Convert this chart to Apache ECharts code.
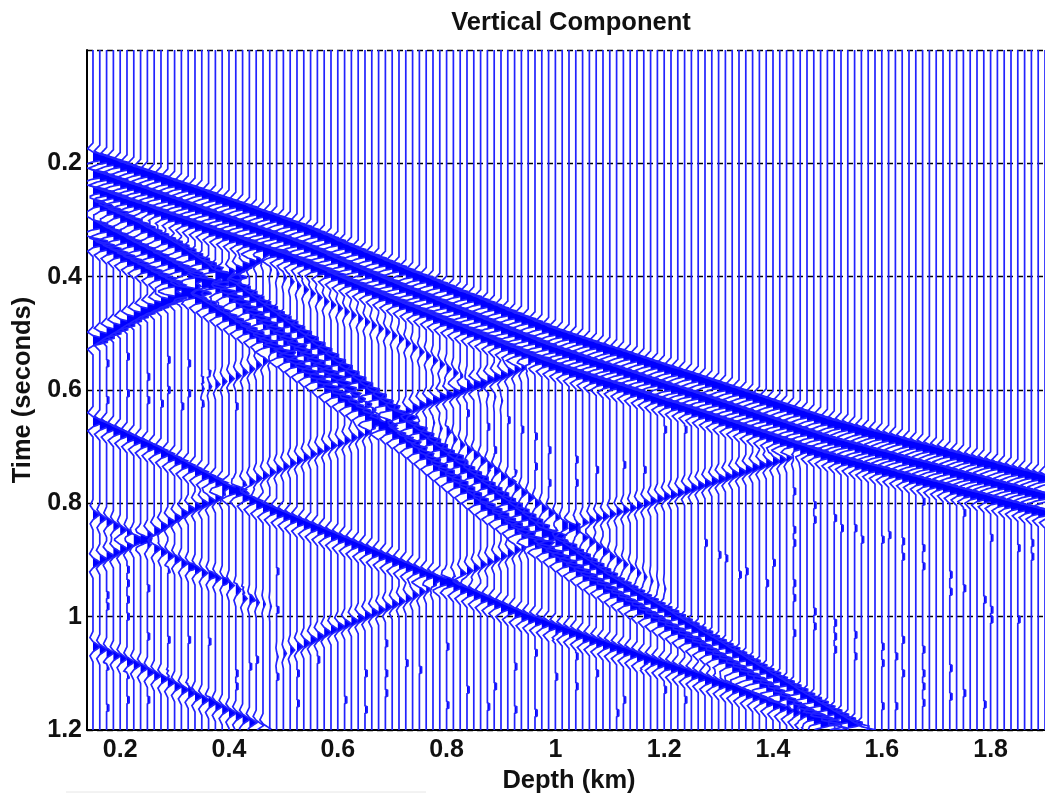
<!DOCTYPE html>
<html><head><meta charset="utf-8">
<style>html,body{margin:0;padding:0;background:#fff}#c{width:1045px;height:795px}</style>
<script src="https://cdn.jsdelivr.net/npm/echarts@6/dist/echarts.min.js"></script>
</head><body><div id="c"></div>
<script>
const chartTitle = 'Vertical Component';
const xName = 'Depth (km)', yName = 'Time (seconds)';
const xTicks = [0.2,0.4,0.6,0.8,1,1.2,1.4,1.6,1.8];
const yTicks = [0.2,0.4,0.6,0.8,1,1.2];
const firstTraceDepth = 0.15, traceSpacing = 0.0125, traceCount = 141;

// picked arrival times in ms, one value per trace
const directMid = [220,224,228,232,237,241,245,249,253,257,262,266,270,274,278,282,286,291,295,299,303,307,311,316,320,324,328,332,337,341,345,350,355,360,365,370,376,381,386,391,396,401,406,411,416,421,426,431,435,440,445,450,455,460,465,469,474,479,484,489,494,499,504,508,513,518,523,528,532,536,540,544,548,552,556,560,563,567,571,575,579,583,587,591,595,599,602,606,610,614,618,622,626,630,634,638,642,646,650,654,658,662,666,670,674,678,682,686,690,693,696,699,703,706,709,712,715,718,721,725,728,731,734,737,740,743,747,750,753,756,759,762,765,769,772,775,778,781,784,787,790];
const directLobes = [-31,0,29];
const bandUpper = [270,276,283,289,296,302,309,315,322,328,335,341,348,355,363,371,379,387,395,403,411,420,429,438,447,456,465,473,482,491,500,510,520,530,540,550,560,571,581,591,601,611,622,631,641,651,661,670,680,690,700,710,719,729,739,748,757,767,776,785,795,804,814,823,832,842,851,859,868,876,885,893,902,910,919,927,936,943,950,957,965,972,979,986,993,1000,1008,1015,1022,1029,1037,1044,1051,1058,1066,1073,1080,1088,1095,1102,1110,1117,1124,1131,1139,1146,1153,1161,1168,1175,1182,1189,1196,1203];
const bandLower = [340,347,353,360,366,373,379,386,392,399,405,412,418,425,433,440,448,456,463,471,478,486,494,501,509,518,526,535,544,553,562,570,579,588,597,606,614,622,630,638,647,655,663,671,679,687,695,705,715,725,735,745,755,765,775,785,795,805,813,821,830,838,847,855,864,872,880,888,896,905,913,921,929,937,944,951,959,966,973,980,988,995,1002,1010,1017,1024,1031,1039,1046,1053,1060,1068,1075,1082,1090,1097,1104,1111,1119,1126,1133,1141,1148,1155,1162,1170,1177,1184,1192,1199,1207,1215,1223];
const bandMiddle = [309,315,322,328,334,340,347,353,359,365,372,378,384,390,396,403,409,415,421,428,438,447,457,466,476,485,495,505,514,524,533,543,552,562,571,580,590,599,609,618,627,637,646,656,665,674,684,693,703,712,722,731];
const bandMiddleGain = [1,1,1,1,1,1,1,1,1,1,1,1,1,1,1,1,1,1,1,1,1,1,1,1,1,1,1,1,1,1,1,1,1,1,1,1,0.9,0.8,0.7,0.6,0.6,0.5,0.5,0.4,0.4,0.3,0.3,0.2,0.2,0.1,0.1,0];
const upgoingC = [513,506,498,491,484,476,469,462,456,451,445,440,435,430,425,420,414,409,404,399,393,388,382,376,370,365,359];
const upgoingCGain = [1,1,1,1,1,1,1,1,1,1,1,1,1,0.9,0.9,0.8,0.8,0.7,0.7,0.7,0.6,0.6,0.6,0.5,0.5,0.4,0.3];
const upgoingE = [905,899,893,887,881,875,869,862,856,849,841,833,826,818,811,806,801,796,790,785,779,773,768,762,756,751,745,740,735,729,724,719,713,708,703,698,694,689,684,679,674,668,662,656,650,644,638,632,627,622,618,613,609,605,600,596,591,587,582,578,574,569,564,559,554,549];
const upgoingEGain = [0.55,0.55,0.55,0.55,0.55,0.55,0.55,0.55,0.55,0.55,0.55,0.55,0.55,0.55,0.55,0.55,0.55,0.5,0.5,0.5,0.45,0.45,0.45,0.4,0.4,0.4,0.4,0.4,0.4,0.4,0.4,0.4,0.4,0.4,0.4,0.4,0.4,0.4,0.4,0.4,0.4,0.45,0.45,0.45,0.5,0.5,0.5,0.55,0.55,0.55,0.6,0.6,0.6,0.6,0.6,0.6,0.6,0.6,0.6,0.6,0.55,0.5,0.45,0.4,0.3,0.2];
const upgoingF = [1071,1065,1059,1053,1047,1041,1035,1028,1023,1018,1013,1008,1003,998,993,988,983,978,973,968,962,956,950,945,940,935,929,924,919,914,908,903,898,893,888,882,877,872,867,861,852,848,844,841,837,834,830,826,823,819,815,812,808,804,800,796,792,788,785,781,777,773,769,765,761,757,753,749,745,741,737,733,730,726,723,719,715,712];
const upgoingFGain = [0.1,0.2,0.3,0.4,0.45,0.5,0.5,0.5,0.5,0.5,0.5,0.5,0.5,0.5,0.5,0.45,0.45,0.45,0.4,0.4,0.4,0.4,0.4,0.4,0.4,0.4,0.4,0.4,0.4,0.4,0.4,0.4,0.4,0.4,0.4,0.4,0.4,0.4,0.4,0.4,0.4,0.4,0.4,0.4,0.4,0.4,0.4,0.4,0.4,0.4,0.4,0.4,0.4,0.4,0.45,0.45,0.45,0.45,0.45,0.45,0.5,0.5,0.5,0.5,0.5,0.55,0.55,0.55,0.55,0.55,0.55,0.55,0.5,0.5,0.45,0.4,0.3,0.2];
const downgoingD = [656,662,667,673,678,684,689,695,700,706,712,719,725,732,738,744,751,757,764,770,776,782,789,795,802,808,813,818,823,828,833,838,843,848,853,858,863,868,873,878,883,888,893,898,903,908,913,918,923,928,932,937,942,947,952,957,962,968,973,978,984,989,994,1000,1004,1008,1012,1017,1021,1025,1029,1033,1038,1042,1046,1050,1054,1058,1062,1066,1071,1075,1079,1083,1087,1091,1095,1099,1103,1107,1112,1116,1120,1124,1128,1133,1137,1141,1146,1151,1156,1160,1165,1170,1175,1180,1185,1190];
const downgoingG = [1053,1058,1064,1069,1074,1080,1085,1091,1098,1104,1110,1116,1123,1129,1135,1141,1147,1153,1158,1164,1170,1175,1181,1187,1192,1198];
const downgoingH = [388,395,402,409,416,423,430,437,444,450,456,462,468,474,480,486,492,498,504,510,518,525,533,540,548,555,563,570,577,584,591,598,605,612,619];
const downgoingHGain = [0.1,0.15,0.2,0.25,0.25,0.3,0.3,0.3,0.3,0.3,0.3,0.3,0.3,0.3,0.3,0.3,0.3,0.3,0.3,0.3,0.3,0.3,0.3,0.3,0.3,0.3,0.3,0.3,0.25,0.25,0.2,0.2,0.15,0.1,0.1];
const downgoingJ = [820,827,833,840,847,853,860,867,873,880,886,893,899,906,912,917,923,928,932,937,945,955,968,971,975,978,982];
const downgoingJGain = [0.45,0.45,0.45,0.45,0.45,0.45,0.45,0.45,0.45,0.45,0.45,0.45,0.45,0.45,0.45,0.45,0.4,0.4,0.4,0.35,0.35,0.3,0.3,0.25,0.2,0.15,0.1];
const upgoingL = [598,594,590,585,580,575,569,563,556,549,541,534,527,520];
const upgoingLGain = [0.15,0.2,0.3,0.3,0.35,0.35,0.35,0.35,0.35,0.35,0.3,0.3,0.2,0.15];
const precursorO = [658,668,677,687,697,706,715,725,734,743,753,762,772,781,790,800,809,817,826,834,843,851,860,868,877,885,894,901,908,915,923,930,937,944,951];
const precursorOGain = [0.1,0.15,0.2,0.25,0.3,0.35,0.4,0.4,0.4,0.4,0.4,0.4,0.4,0.4,0.4,0.4,0.4,0.4,0.4,0.4,0.4,0.4,0.4,0.4,0.4,0.4,0.35,0.35,0.3,0.3,0.25,0.2,0.15,0.1,0.1];

// small isolated arrivals: trace number, time in ms
const smallArrivals = [[90,870],[92,891],[93,897],[95,926],[96,920],[99,941],[100,905],[103,779],[103,847],[103,870],[103,941],[103,967],[106,803],[106,829],[106,991],[109,826],[110,844],[112,844],[113,864],[116,864],[117,856],[119,867],[119,894],[122,797],[122,879],[122,911],[126,926],[126,956],[128,817],[128,950],[131,970],[132,861],[132,988],[136,879],[138,870],[138,894],[103,1029],[106,1017],[109,1011],[109,1035],[109,1058],[112,1032],[112,1070],[116,1053],[116,1082],[118,1070],[119,1041],[119,1100],[122,1058],[122,1100],[122,1123],[126,1091],[126,1141],[128,1135],[131,1155],[132,1005],[136,1005],[122,1152],[116,1158],[118,1158],
[2,962],[5,941],[8,950],[5,917],[11,917],[14,912],[17,926],[19,938],[21,947],[22,953],[27,920],[2,1161],[5,1147],[8,1147],[2,982],[5,970],[23,967],[23,1088],[21,1100],[21,1123],[27,1106],[24,1076],[30,1100],[30,1153],[33,1076],[37,1147],[40,1164],[43,1135],[40,1100],[43,1100],[27,988],[5,1103],[11,1041],[14,1041],[17,1044],[5,1000],[2,1088],[8,1035],[11,1100],[14,1123],[17,1147],
[55,641],[58,665],[61,653],[63,670],[65,682],[67,706],[71,723],[74,741],[78,732],[81,741],[84,670],[87,670],[52,670],[52,717],[55,729],[58,747],[61,764],[71,764],[67,764],[62,747],[65,735],[59,706],
[43,1047],[46,1082],[48,1094],[52,1053],[52,1156],[55,1129],[62,1088],[65,1064],[65,1170],[59,1123],[62,1164],[58,1159],[71,1070],[71,1123],[74,1100],[78,1147],[81,1088],[84,1088],[84,1129],[87,1041],[87,1147],[68,1035],[68,1106],[77,1170],
[2,553],[5,541],[8,577],[11,547],[14,553],[17,571],[5,606],[2,618],[8,618],[11,600],[13,629],[16,624],[21,629],[16,582],[14,606],[10,624]];

// wavelet shapes: time offset in ms, deflection in trace spacings
const strongTime = [-25,-15,-9,-3,3,9,15,25];
const strongAmp = [0,-0.8,0,2.1,2.1,0,-0.8,0];
const weakTime = [-27,-16,-9,0,9,16,27];
const weakAmp = [0,-0.9,0,2.2,0,-0.9,0];
const blipTime = [-7,-5,5,7];
const blipAmp = [0,0.32,0.32,0];

// [times, first trace, gain (number or per-trace list), wavelet]
const strong=[strongTime,strongAmp], weak=[weakTime,weakAmp];
const arrivals = [
  [directMid.map(t=>t+directLobes[0]),0,1,strong],
  [directMid,0,1,strong],
  [directMid.map(t=>t+directLobes[2]),0,1,strong],
  [bandUpper,0,1,strong],
  [bandMiddle,0,bandMiddleGain,strong],
  [bandLower,0,1,strong],
  [upgoingC,0,upgoingCGain,strong],
  [upgoingE,0,upgoingEGain,weak],
  [upgoingF,27,upgoingFGain,weak],
  [downgoingD,0,0.85,weak],
  [downgoingG,0,0.5,weak],
  [downgoingH,26,downgoingHGain,weak],
  [downgoingJ,0,downgoingJGain,weak],
  [upgoingL,16,upgoingLGain,weak],
  [precursorO,50,precursorOGain,weak]
];

function lookup(ts, as, t){
  if (t<=ts[0]||t>=ts[ts.length-1]) return 0;
  for (let k=1;k<ts.length;k++) if (t<=ts[k]) return as[k-1]+(as[k]-as[k-1])*(t-ts[k-1])/(ts[k]-ts[k-1]);
  return 0;
}
const dtMs = 1, endMs = 1200;
const traces = [];
for (let i=0;i<traceCount;i++){
  const amp = new Float32Array(endMs+1);
  arrivals.forEach(([times,start,gain,w])=>{
    const k=i-start; if(k<0||k>=times.length) return;
    const g=Array.isArray(gain)?gain[k]:gain, t0=times[k];
    for(let t=Math.max(0,Math.ceil(t0-27));t<=Math.min(endMs,t0+27);t+=dtMs) amp[t]+=g*lookup(w[0],w[1],t-t0);
  });
  smallArrivals.forEach(([n,t0])=>{ if(n!==i) return;
    for(let t=Math.max(0,t0-7);t<=Math.min(endMs,t0+7);t++) amp[t]+=lookup(blipTime,blipAmp,t-t0);
  });
  traces.push(amp);
}
const traceData = traces.map((_,i)=>[firstTraceDepth+i*traceSpacing]);

const chart = echarts.init(document.getElementById('c'),null,{renderer:'canvas'});
const F = '"Liberation Sans",Arial,sans-serif';
chart.setOption({
  animation:false,
  backgroundColor:'#fff',
  title:{text:chartTitle,left:566,top:5,textAlign:'center',textStyle:{fontFamily:F,fontWeight:'bold',fontSize:25.5,color:'#111'}},
  grid:{left:87,top:50,right:0,bottom:65,containLabel:false,outerBoundsMode:'none'},
  xAxis:{type:'value',min:0.139,max:1.9,name:xName,nameLocation:'middle',nameGap:34,
    nameTextStyle:{fontFamily:F,fontWeight:'bold',fontSize:25.5,color:'#111',padding:[0,0,0,6]},
    axisLine:{show:true,onZero:false,lineStyle:{color:'#000',width:2}},
    axisTick:{show:false},splitLine:{show:false},
    axisLabel:{customValues:xTicks,fontFamily:F,fontWeight:'bold',fontSize:25,color:'#111',margin:8,formatter:v=>String(v)}},
  yAxis:{type:'value',inverse:true,min:0,max:1.2,interval:0.2,name:yName,nameLocation:'middle',nameGap:50,
    nameTextStyle:{fontFamily:F,fontWeight:'bold',fontSize:25.5,color:'#111'},
    axisLine:{show:true,onZero:false,lineStyle:{color:'#000',width:2}},
    axisTick:{show:false},
    splitLine:{show:true,lineStyle:{color:'#000',width:1.4,type:[6,4]}},
    axisLabel:{fontFamily:F,fontWeight:'bold',fontSize:25,color:'#111',margin:5,showMinLabel:false,
      formatter:v=>yTicks.includes(+v.toFixed(1))?String(+v.toFixed(1)):''}},
  series:[{
    type:'custom',clip:true,coordinateSystem:'cartesian2d',
    encode:{x:0},data:traceData,z:3,silent:true,
    renderItem:(params,api)=>{
      const i=params.dataIndex, d=api.value(0), amp=traces[i];
      const pts=[], kids=[];
      let run=null;
      for(let t=0;t<=endMs;t+=dtMs){
        const a=amp[t];
        const moving=(a!==0)||(t>0&&amp[t-1]!==0)||(t<endMs&&amp[t+1]!==0)||t===0||t===endMs;
        if(!moving) {continue;}
        const p=api.coord([d+a*traceSpacing,t/1000]);
        pts.push(p);
        if(a>0){
          if(!run) run=[api.coord([d,t/1000])];
          run.push(p);
        } else if(run){
          run.push(api.coord([d,t/1000]));
          kids.push({type:'polygon',shape:{points:run},style:{fill:'#0000ff',stroke:null}});
          run=null;
        }
      }
      kids.push({type:'polyline',shape:{points:pts},style:{stroke:'#2222ff',fill:null,lineWidth:1.7}});
      return {type:'group',children:kids};
    }
  }],
  graphic:[{type:'line',shape:{x1:66,y1:792,x2:426,y2:792},style:{stroke:'#e6e6e6',lineWidth:1},silent:true}]
});
</script></body></html>
